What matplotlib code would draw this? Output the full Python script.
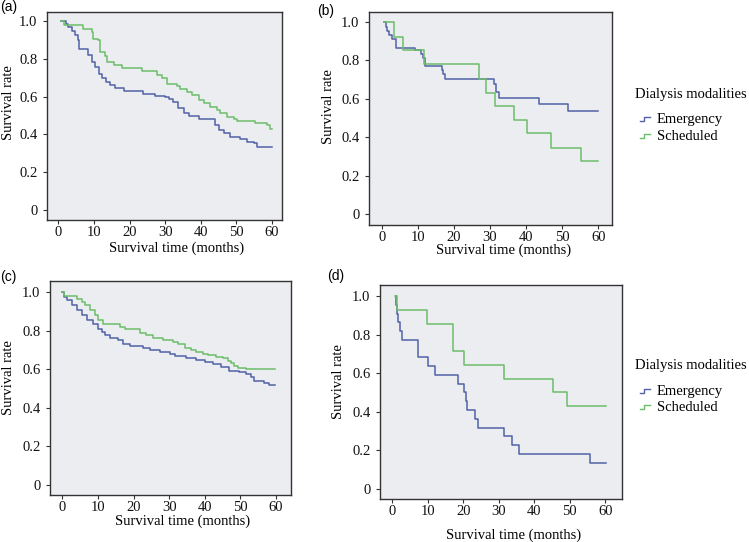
import matplotlib
matplotlib.use('Agg')
import matplotlib.pyplot as plt
from matplotlib.lines import Line2D

# ---- data ----
# (a)
a_emerg_t = [0.8, 2.0, 2.8, 3.8, 4.7, 5.4, 5.9, 8.4, 9.4, 10.3, 11.3, 12.2, 13.4, 14.5, 15.9, 18.3,
             23.9, 27.2, 29.8, 31.0, 32.3, 33.7, 35.2, 36.6, 39.4, 44.1, 45.0, 46.4, 48.3, 51.1,
             53.0, 54.8, 55.8, 60.0]
a_emerg_s = [1.0, 0.985, 0.97, 0.945, 0.925, 0.90, 0.854, 0.82, 0.785, 0.757, 0.722, 0.696, 0.678,
             0.660, 0.648, 0.630, 0.616, 0.604, 0.599, 0.590, 0.569, 0.540, 0.516, 0.498, 0.484,
             0.449, 0.423, 0.405, 0.387, 0.375, 0.361, 0.352, 0.334, 0.334]
a_sched_t = [0.8, 1.6, 7.0, 9.4, 9.85, 11.25, 11.7, 13.1, 13.6, 15.5, 17.8, 23.5, 27.7, 29.1, 30.5,
             33.3, 34.2, 36.1, 37.5, 39.4, 40.8, 42.7, 44.5, 45.5, 47.4, 49.2, 50.2, 55.3, 58.6,
             59.5, 60.0]
a_sched_s = [1.0, 0.977, 0.960, 0.942, 0.907, 0.898, 0.836, 0.815, 0.783, 0.766, 0.752, 0.734,
             0.713, 0.696, 0.669, 0.657, 0.639, 0.625, 0.608, 0.581, 0.564, 0.546, 0.528, 0.511,
             0.493, 0.481, 0.470, 0.458, 0.449, 0.428, 0.428]
# (b)
b_emerg_t = [0.6, 1.1, 1.5, 2.0, 2.9, 4.0, 9.2, 11.0, 11.5, 12.0, 16.6, 17.0, 17.5, 31.1, 31.8,
             32.5, 43.6, 51.6, 60.0]
b_emerg_s = [1.0, 0.976, 0.955, 0.934, 0.91, 0.867, 0.853, 0.836, 0.813, 0.772, 0.749, 0.728,
             0.706, 0.68, 0.637, 0.605, 0.571, 0.539, 0.539]
b_sched_t = [0.6, 3.3, 5.8, 11.75, 26.9, 28.9, 31.4, 36.75, 40.3, 46.8, 55.3, 60.0]
b_sched_s = [1.0, 0.924, 0.855, 0.779, 0.705, 0.632, 0.563, 0.490, 0.421, 0.345, 0.276, 0.276]
# (c)
c_emerg_t = [0, 0.47, 1.21, 2.61, 4.01, 5.41, 6.81, 8.68, 10.08, 11.01, 11.94, 13.34, 15.67,
             17.07, 18.94, 22.67, 24.54, 27.34, 30.14, 31.54, 34.8, 37.6, 39.93, 42.26, 44.6,
             46.93, 49.73, 51.6, 52.99, 53.93, 56.72, 58.12, 59.6]
c_emerg_s = [1.0, 0.974, 0.957, 0.931, 0.905, 0.879, 0.853, 0.833, 0.81, 0.793, 0.776, 0.764,
             0.75, 0.733, 0.721, 0.712, 0.702, 0.69, 0.677, 0.668, 0.656, 0.647, 0.638, 0.626,
             0.612, 0.592, 0.587, 0.573, 0.557, 0.540, 0.530, 0.518, 0.518]
c_sched_t = [0, 0.47, 4.0, 5.41, 6.34, 7.74, 9.14, 10.08, 11.48, 16.14, 17.54, 21.74, 23.6,
             25.47, 28.27, 31.07, 32.47, 34.33, 36.2, 37.6, 39.46, 40.86, 43.2, 45.06, 46.46,
             47.4, 48.33, 49.26, 51.6, 59.6]
c_sched_s = [1.0, 0.98, 0.965, 0.948, 0.931, 0.905, 0.879, 0.853, 0.833, 0.819, 0.807, 0.788,
             0.776, 0.764, 0.753, 0.741, 0.729, 0.712, 0.702, 0.69, 0.678, 0.672, 0.664, 0.656,
             0.644, 0.631, 0.614, 0.605, 0.600, 0.600]
# (d)
d_emerg_t = [1.0, 1.1, 1.35, 1.6, 2.2, 2.9, 7.4, 10.2, 12.1, 18.5, 20.2, 20.7, 21.2, 23.4, 24.1,
             31.6, 33.7, 35.8, 55.7, 60.2]
d_emerg_s = [1.0, 0.955, 0.909, 0.864, 0.818, 0.773, 0.682, 0.636, 0.591, 0.545, 0.5, 0.455,
             0.409, 0.364, 0.318, 0.273, 0.227, 0.182, 0.136, 0.136]
d_sched_t = [0.85, 1.5, 9.9, 17.1, 20.3, 31.5, 45.2, 49.2, 60.2]
d_sched_s = [1.0, 0.929, 0.857, 0.714, 0.643, 0.571, 0.5, 0.429, 0.429]

x_ticks = [0, 10, 20, 30, 40, 50, 60]
y_ticks = [0, 0.2, 0.4, 0.6, 0.8, 1.0]
y_tick_labels = ['0', '0.2', '0.4', '0.6', '0.8', '1.0']
groups = ['Emergency', 'Scheduled']

W, H = 749, 542
BLUE = '#5262a6'
GREEN = '#6cbd6a'
EDGE = '#333333'

plt.rcParams['font.family'] = ['Liberation Serif', 'DejaVu Serif']
fig = plt.figure(figsize=(W / 100, H / 100), dpi=100)


def fx(px):
    return px / W


def fy(py):
    return 1 - py / H


panels = [
    dict(tag='(a)', tagpos=(0, 7), box=(47, 12, 282, 220), xlim=(-3.2, 62.8), ylim=(-0.053, 1.048),
         em=(a_emerg_t, a_emerg_s), sc=(a_sched_t, a_sched_s), xlab=(177, 248), ylab=(9, 103)),
    dict(tag='(b)', tagpos=(317, 11), box=(369, 12, 612, 225), xlim=(-3.5, 63.8), ylim=(-0.056, 1.052),
         em=(b_emerg_t, b_emerg_s), sc=(b_sched_t, b_sched_s), xlab=(504, 250), ylab=(328, 107)),
    dict(tag='(c)', tagpos=(0, 277), box=(50, 281, 291, 495), xlim=(-3.45, 64.2), ylim=(-0.052, 1.057),
         em=(c_emerg_t, c_emerg_s), sc=(c_sched_t, c_sched_s), xlab=(183, 521), ylab=(9, 378)),
    dict(tag='(d)', tagpos=(327, 276), box=(380, 285, 622, 499), xlim=(-3.4, 64.7), ylim=(-0.052, 1.057),
         em=(d_emerg_t, d_emerg_s), sc=(d_sched_t, d_sched_s), xlab=(514, 535), ylab=(338, 382)),
]

for p in panels:
    l, t, r, b = p['box']
    ax = fig.add_axes([fx(l), fy(b), (r - l) / W, (b - t) / H])
    ax.set_facecolor('#ecedf1')
    ax.step(p['em'][0], p['em'][1], where='post', color=BLUE, lw=1.1)
    ax.step(p['sc'][0], p['sc'][1], where='post', color=GREEN, lw=1.1)
    ax.set_xlim(*p['xlim'])
    ax.set_ylim(*p['ylim'])
    ax.set_xticks(x_ticks)
    ax.set_yticks(y_ticks)
    ax.set_yticklabels(y_tick_labels)
    ax.tick_params(direction='out', length=3, width=0.8, color=EDGE, labelsize=10.5,
                   labelcolor='#111111')
    ax.tick_params(axis='x', pad=1.5)
    ax.tick_params(axis='y', pad=4)
    for s in ax.spines.values():
        s.set_color(EDGE)
        s.set_linewidth(1.0)
    ax.set_xlabel('Survival time (months)', fontsize=10.5, va='center')
    ax.set_ylabel('Survival rate', fontsize=10.5, va='center')
    ax.xaxis.set_label_coords(fx(p['xlab'][0]), fy(p['xlab'][1]), transform=fig.transFigure)
    ax.yaxis.set_label_coords(fx(p['ylab'][0]), fy(p['ylab'][1]), transform=fig.transFigure)
    fig.text(fx(p['tagpos'][0]), fy(p['tagpos'][1]), p['tag'], family='Liberation Sans',
             fontsize=10, ha='left', va='center')

# legends (one beside each right-hand panel)
for title_y, rows in [(98, (123, 140)), (369, (395, 411))]:
    fig.text(fx(635), fy(title_y), 'Dialysis modalities', fontsize=10.5, ha='left', va='baseline')
    for name, col, base in zip(groups, [BLUE, GREEN], rows):
        cy = base - 4
        fig.add_artist(Line2D([fx(640), fx(644), fx(644), fx(650)],
                              [fy(cy + 2), fy(cy + 2), fy(cy - 2), fy(cy - 2)],
                              color=col, lw=1.0, transform=fig.transFigure))
        fig.text(fx(657), fy(base), name, fontsize=10.5, ha='left', va='baseline')

fig.savefig('out.png', dpi=100, facecolor='white')
